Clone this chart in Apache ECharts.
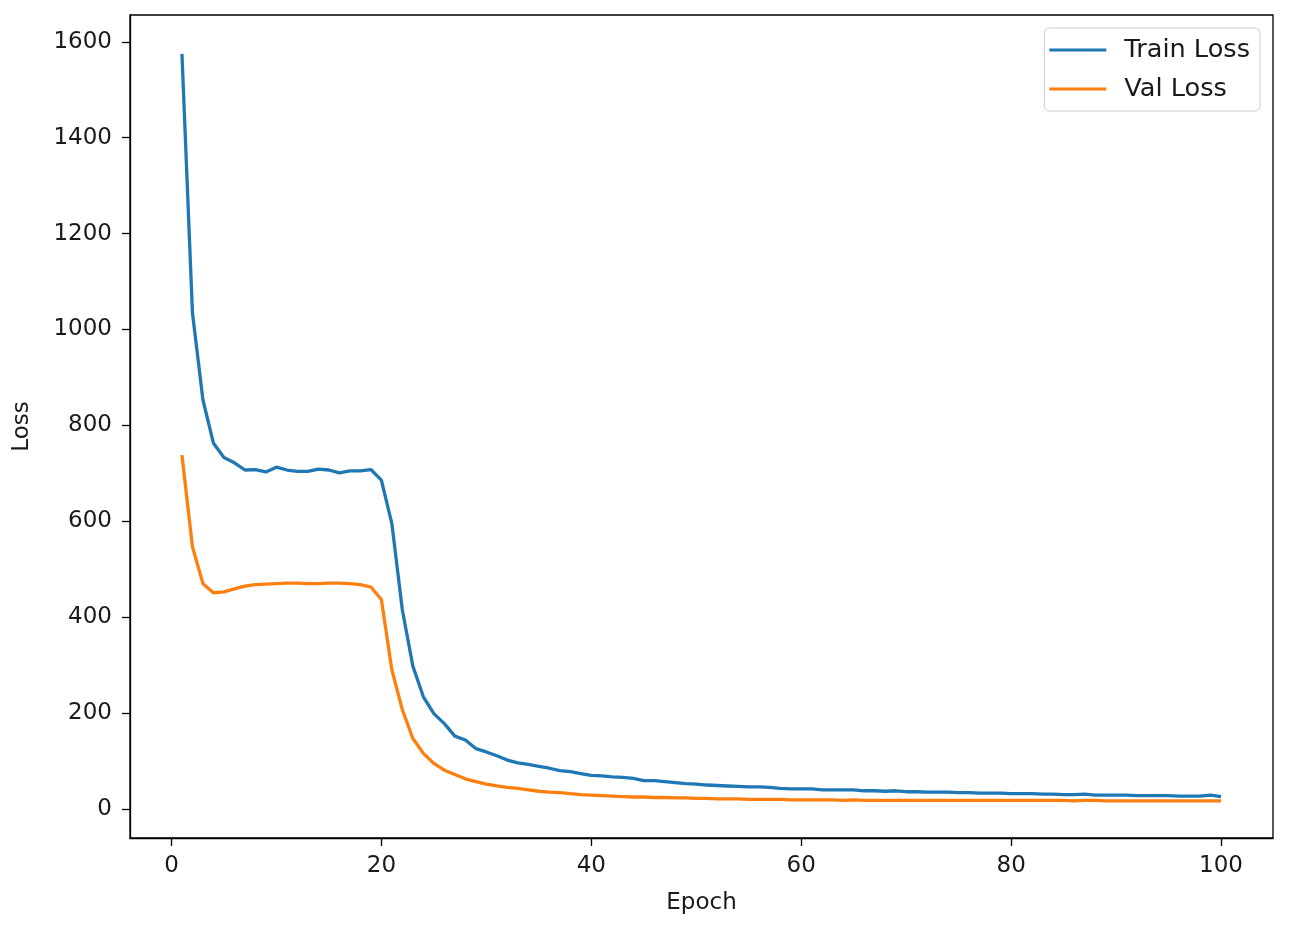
<!DOCTYPE html>
<html>
<head>
<meta charset="utf-8">
<script src="https://cdn.jsdelivr.net/npm/echarts@6/dist/echarts.min.js"></script>
<style>html,body{margin:0;padding:0;background:#fff;}#c{width:1291px;height:933px;}</style>
</head>
<body>
<div id="c"></div>
<script>
const epochs = Array.from({length: 100}, (_, i) => i + 1);
const trainLoss = [
1575,1035,853,763,733,722,707,708,703,713,
707,704,704,709,707,701,705,705,708,686,
595,415,298,234,199,178,152,144,126,119,
111,102,96,93,89,85,80,78,74,70,
69,67,66,64,59,59,57,55,53,52,
50,49,48,47,46,46,45,43,42,42,
42,40,40,40,40,38,38,37,38,36,
36,35,35,35,34,34,33,33,33,32,
32,32,31,31,30,30,31,29,29,29,
29,28,28,28,28,27,27,27,29,26];
const valLoss = [
738,547,470,451,453,459,465,468,469,470,
471,471,470,470,471,471,470,468,463,437,
290,207,147,116,95,81,72,63,57,52,
48,45,43,40,37,35,34,32,30,29,
28,27,26,25,25,24,24,23,23,22,
22,21,21,21,20,20,20,20,19,19,
19,19,19,18,19,18,18,18,18,18,
18,18,18,18,18,18,18,18,18,18,
18,18,18,18,18,17,18,18,17,17,
17,17,17,17,17,17,17,17,17,17];
const xTicks = [0, 20, 40, 60, 80, 100];
const yTicks = [0, 200, 400, 600, 800, 1000, 1200, 1400, 1600];

const font = 'DejaVu Sans';
const chart = echarts.init(document.getElementById('c'), null, {renderer: 'canvas'});
chart.setOption({
  animation: false,
  backgroundColor: '#fff',
  grid: {left: 130, right: 18, top: 15, bottom: 95, show: true, borderColor: '#000', borderWidth: 1.3, backgroundColor: 'transparent'},
  legend: {
    orient: 'vertical', right: 31, top: 28,
    data: ['Train Loss', 'Val Loss'],
    itemWidth: 57, itemHeight: 3, icon: 'rect', itemGap: 13,
    padding: [9, 10, 9, 5],
    borderColor: '#cccccc', borderWidth: 1, borderRadius: 5,
    textStyle: {fontFamily: font, fontSize: 25.6, color: '#1a1a1a', padding: [0, 0, 0, 13]}
  },
  xAxis: {
    type: 'value', min: -3.95, max: 104.95,
    name: 'Epoch', nameLocation: 'middle', nameGap: 54,
    nameTextStyle: {fontFamily: font, fontSize: 23, color: '#1a1a1a'},
    axisLine: {show: true, onZero: false, lineStyle: {color: '#000', width: 1.3}},
    axisTick: {show: true, length: 8, lineStyle: {color: '#000', width: 1.3}, customValues: xTicks},
    axisLabel: {fontFamily: font, fontSize: 23, color: '#1a1a1a', margin: 17, customValues: xTicks, formatter: v => String(v)},
    splitLine: {show: false}
  },
  yAxis: {
    type: 'value', min: -60.5, max: 1656,
    name: 'Loss', nameLocation: 'middle', nameGap: 96, nameRotate: 90,
    nameTextStyle: {fontFamily: font, fontSize: 23, color: '#1a1a1a'},
    axisLine: {show: true, onZero: false, lineStyle: {color: '#000', width: 1.3}},
    axisTick: {show: true, length: 8, lineStyle: {color: '#000', width: 1.3}, customValues: yTicks},
    axisLabel: {fontFamily: font, fontSize: 23, color: '#1a1a1a', margin: 18, customValues: yTicks, formatter: v => String(v)},
    splitLine: {show: false}
  },
  series: [
    {name: 'Train Loss', type: 'line', data: epochs.map((e, i) => [e, trainLoss[i]]),
     showSymbol: false, symbol: 'none', color: '#1f77b4', lineStyle: {width: 3.3, color: '#1f77b4'}},
    {name: 'Val Loss', type: 'line', data: epochs.map((e, i) => [e, valLoss[i]]),
     showSymbol: false, symbol: 'none', color: '#ff7f0e', lineStyle: {width: 3.3, color: '#ff7f0e'}}
  ]
});
</script>
</body>
</html>
